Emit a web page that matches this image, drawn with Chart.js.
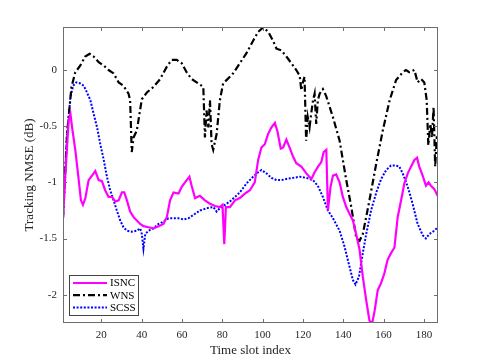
<!DOCTYPE html>
<html>
<head>
<meta charset="utf-8">
<script src="https://cdn.jsdelivr.net/npm/chart.js@4"></script>
<style>
  html, body { margin: 0; padding: 0; background: #fff; }
  canvas { display: block; }
</style>
</head>
<body>
<canvas id="chart" width="485" height="363"></canvas>
<script>
// tick labels
const xTicks = [20, 40, 60, 80, 100, 120, 140, 160, 180];
const yTicks = [-2, -1.5, -1, -0.5, 0];

// ISNC
const isncX = [1, 2.2, 3.8, 4.7, 5.5, 7.1, 8.8, 9.9, 10.9, 12.1, 13.7, 15.4, 17, 18.7, 20.3, 21.9, 23.6, 25.3, 26.9, 28.6,
  30.2, 31.4, 32.7, 34.3, 36, 37.6, 39.3, 40.9, 43.4, 45.9, 48.4, 50.8, 52.5, 54.1, 55.8, 58.3, 59.9, 61.5, 63.7, 64.8,
  66.5, 68.9, 71.4, 73.9, 76.4, 78.8, 80.1, 81, 81.8, 83.8, 86.3, 88.7, 91.2, 93.7, 96.1, 97.8, 99.4, 101.1, 102.7, 104.4,
  106.1, 107.4, 109, 110.2, 111.8, 113.4, 115.1, 116.7, 119.2, 121.7, 124.2, 125.8, 127.5, 129.1, 130.3, 131.6, 132.4, 133.7, 134.9, 136.5,
  138.2, 139.8, 141.5, 143.1, 144.8, 146.4, 148.1, 149.7, 151.4, 153, 154.3, 155.6, 157.1, 158.7, 160.4, 162, 163.7, 165.4, 167, 168.7,
  170.3, 172, 173.6, 175.3, 176.6, 177.7, 179.4, 181, 182.3, 183.5, 185.2, 186.8];
const isncY = [-1.32, -0.92, -0.45, -0.39, -0.51, -0.71, -0.98, -1.16, -1.2, -1.14, -0.98, -0.94, -0.9, -0.98, -0.99, -1.07, -1.13, -1.13, -1.17, -1.16,
  -1.09, -1.09, -1.16, -1.26, -1.31, -1.34, -1.37, -1.39, -1.4, -1.41, -1.39, -1.37, -1.31, -1.16, -1.09, -1.1, -1.04, -1.0, -0.95, -1.03,
  -1.14, -1.12, -1.16, -1.19, -1.21, -1.22, -1.2, -1.55, -1.22, -1.22, -1.16, -1.14, -1.1, -1.07, -1.0, -0.8, -0.69, -0.66, -0.57, -0.51,
  -0.47, -0.55, -0.7, -0.69, -0.62, -0.69, -0.77, -0.83, -0.86, -0.92, -0.97, -0.91, -0.86, -0.82, -0.73, -0.71, -1.25, -1.04, -0.94, -0.93,
  -1.0, -1.13, -1.22, -1.28, -1.34, -1.46, -1.6, -1.84, -2.05, -2.23, -2.26, -2.14, -1.96, -1.9, -1.81, -1.69, -1.63, -1.58, -1.31, -1.16,
  -1.01, -0.92, -0.86, -0.8, -0.78, -0.86, -0.94, -1.03, -1.0, -1.03, -1.06, -1.12];

// WNS
const wnsX = [1, 3, 5.2, 7.1, 9.6, 12, 14.2, 16.2, 18.7, 21.2, 23.6, 26.1, 28.6, 31, 33.5, 34.3, 35.1, 36, 37.6, 40.1,
  42.6, 45.9, 49.2, 52.5, 54.9, 57.4, 59.9, 62.3, 64.8, 68.1, 70.6, 71.4, 72.2, 73.1, 73.9, 74.7, 75.5, 77.2, 78.8, 80.4,
  82.1, 85.4, 88.7, 92, 95.3, 97.8, 100.3, 102.8, 105.2, 106.9, 109.3, 111.8, 114.3, 116.7, 118.4, 119.2, 120, 120.8, 121.6, 122.4,
  123.3, 124.1, 125, 125.8, 126.6, 127.4, 128.3, 129.9, 131.5, 134.9, 138.2, 141.5, 144, 146.5, 148.1, 149.7, 153, 156.4, 159.6, 163,
  166.2, 169.5, 171.1, 172.8, 175.3, 176.9, 178.6, 180.2, 181.4, 182.2, 183.2, 184, 184.8, 185.6, 186.4, 187];
const wnsY = [-1.32, -0.57, -0.15, -0.02, 0.04, 0.12, 0.145, 0.12, 0.07, 0.04, 0, -0.03, -0.11, -0.14, -0.21, -0.27, -0.73, -0.6, -0.54, -0.26,
  -0.2, -0.15, -0.08, 0.03, 0.09, 0.09, 0.06, -0.02, -0.08, -0.12, -0.15, -0.6, -0.36, -0.51, -0.27, -0.66, -0.71, -0.57, -0.27, -0.12,
  -0.09, -0.03, 0.06, 0.15, 0.26, 0.34, 0.38, 0.34, 0.26, 0.19, 0.175, 0.12, 0.06, 0, -0.05, -0.18, -0.11, -0.06, -0.63, -0.42,
  -0.51, -0.39, -0.27, -0.21, -0.48, -0.27, -0.21, -0.17, -0.23, -0.42, -0.63, -0.98, -1.22, -1.5, -1.52, -1.46, -1.16, -0.83, -0.54, -0.27,
  -0.09, -0.02, 0, -0.02, 0, -0.11, -0.08, -0.11, -0.27, -0.67, -0.48, -0.6, -0.33, -0.86, -0.6, -0.6];

// SCSS
const scssX = [1, 3, 4.7, 6, 7.6, 9.6, 11.3, 12.9, 14.6, 16.2, 17.9, 19.5, 21.2, 22.8, 24.4, 26.1, 27.7, 29.4, 31, 32.7,
  35.1, 37.6, 39.3, 40.1, 40.9, 41.8, 43.4, 45.9, 48.4, 50.8, 53.3, 55.8, 58.3, 60.7, 63.2, 65.7, 69, 72.3, 75.6, 77.2,
  78.8, 81.3, 83.8, 86.3, 88.7, 92, 95.3, 97.8, 99.4, 101.9, 104.4, 106.9, 109.3, 111.8, 115.1, 118.4, 121.7, 125, 127.4, 129.9,
  132.4, 134.9, 138.2, 140.6, 143.1, 144.8, 146.1, 147.8, 149.7, 151.4, 153.8, 156.4, 158.8, 161.3, 163.7, 166.2, 167.8, 169.5, 172, 174.4,
  176.9, 179.4, 181, 182.7, 185.2, 186.8];
const scssY = [-1.32, -0.57, -0.24, -0.14, -0.11, -0.12, -0.14, -0.2, -0.27, -0.39, -0.51, -0.66, -0.8, -0.95, -1.07, -1.16, -1.25, -1.34, -1.4, -1.43,
  -1.44, -1.43, -1.41, -1.46, -1.59, -1.46, -1.43, -1.41, -1.37, -1.35, -1.32, -1.32, -1.32, -1.33, -1.32, -1.29, -1.25, -1.23, -1.22, -1.26,
  -1.23, -1.2, -1.17, -1.13, -1.09, -1.01, -0.95, -0.91, -0.89, -0.92, -0.96, -0.98, -0.98, -0.97, -0.96, -0.95, -0.96, -0.98, -1.03, -1.13,
  -1.25, -1.32, -1.43, -1.57, -1.75, -1.87, -1.91, -1.84, -1.63, -1.46, -1.25, -1.09, -0.97, -0.89, -0.85, -0.85, -0.86, -0.92, -1.04, -1.19,
  -1.37, -1.47, -1.5, -1.46, -1.43, -1.4];

const pts = (xs, ys) => xs.map((v, i) => ({x: v, y: ys[i]}));
const FONT = "'Liberation Serif', 'Times New Roman', serif";
const AXIS = '#262626';
const BOX = '#6e6e6e';

// matlab style box, inward ticks and legend
const boxPlugin = {
    id: 'matlabBox',
    afterDatasetsDraw(chart) {
        const {ctx, chartArea: a, scales} = chart;
        const x = scales.x, y = scales.y;
        const tl = 4;
        ctx.save();
        ctx.strokeStyle = BOX;
        ctx.lineWidth = 1;
        ctx.beginPath();
        xTicks.forEach((v) => {
            const px = Math.round(x.getPixelForValue(v)) + 0.5;
            ctx.moveTo(px, a.bottom); ctx.lineTo(px, a.bottom - tl);
            ctx.moveTo(px, a.top); ctx.lineTo(px, a.top + tl);
        });
        yTicks.forEach((v) => {
            const py = Math.round(y.getPixelForValue(v)) + 0.5;
            ctx.moveTo(a.left, py); ctx.lineTo(a.left + tl, py);
            ctx.moveTo(a.right, py); ctx.lineTo(a.right - tl, py);
        });
        ctx.stroke();
        ctx.strokeRect(Math.round(a.left) + 0.5, Math.round(a.top) + 0.5,
            Math.round(a.right - a.left) - 1, Math.round(a.bottom - a.top) - 1);

        // legend
        const lx = Math.round(a.left) + 6, lw = 69, lh = 40;
        const ly = Math.round(a.bottom) - 8 - lh;
        ctx.fillStyle = '#fff';
        ctx.fillRect(lx, ly, lw, lh);
        ctx.strokeStyle = '#444';
        ctx.strokeRect(lx + 0.5, ly + 0.5, lw, lh);
        ctx.font = '11px ' + FONT;
        ctx.textBaseline = 'middle';
        chart.data.datasets.forEach((ds, i) => {
            const cy = ly + 8 + i * 12.2;
            ctx.save();
            ctx.strokeStyle = ds.borderColor;
            ctx.lineWidth = ds.borderWidth;
            ctx.setLineDash(ds.borderDash || []);
            ctx.beginPath();
            ctx.moveTo(lx + 4, cy); ctx.lineTo(lx + 38, cy);
            ctx.stroke();
            ctx.restore();
            ctx.fillStyle = '#000';
            ctx.fillText(ds.label, lx + 41, cy + 0.5);
        });
        ctx.restore();
    }
};

new Chart(document.getElementById('chart'), {
    type: 'line',
    data: {
        datasets: [
            {label: 'ISNC', data: pts(isncX, isncY), borderColor: '#ff00ff', borderWidth: 2.2},
            {label: 'WNS', data: pts(wnsX, wnsY), borderColor: '#000000', borderWidth: 2.2, borderDash: [7, 3, 2, 3]},
            {label: 'SCSS', data: pts(scssX, scssY), borderColor: '#0000ff', borderWidth: 2, borderDash: [2, 1.6]},
        ]
    },
    options: {
        responsive: false,
        animation: false,
        devicePixelRatio: 1,
        elements: {point: {radius: 0}, line: {tension: 0, borderCapStyle: 'butt'}},
        layout: {padding: {left: 0, top: 27, right: 47, bottom: 0}},
        plugins: {legend: {display: false}, tooltip: {enabled: false}},
        scales: {
            x: {
                type: 'linear', min: 1, max: 187,
                afterBuildTicks: (s) => { s.ticks = xTicks.map((v) => ({value: v})); },
                afterFit: (s) => { s.height = 40; },
                grid: {display: false, drawTicks: false},
                border: {display: false},
                ticks: {padding: 6, color: AXIS, font: {family: FONT, size: 11}, maxRotation: 0},
                title: {display: true, text: 'Time slot index', color: AXIS, font: {family: FONT, size: 13}, padding: {top: 0, bottom: 5}},
            },
            y: {
                type: 'linear', min: -2.252, max: 0.383,
                afterBuildTicks: (s) => { s.ticks = yTicks.map((v) => ({value: v})); },
                afterFit: (s) => { s.width = 63; },
                grid: {display: false, drawTicks: false},
                border: {display: false},
                ticks: {padding: 6, color: AXIS, font: {family: FONT, size: 11}, callback: (v) => String(v)},
                title: {display: true, text: 'Tracking NMSE (dB)', color: AXIS, font: {family: FONT, size: 13}, padding: {top: 22, bottom: 0}},
            }
        }
    },
    plugins: [boxPlugin]
});
</script>
</body>
</html>
